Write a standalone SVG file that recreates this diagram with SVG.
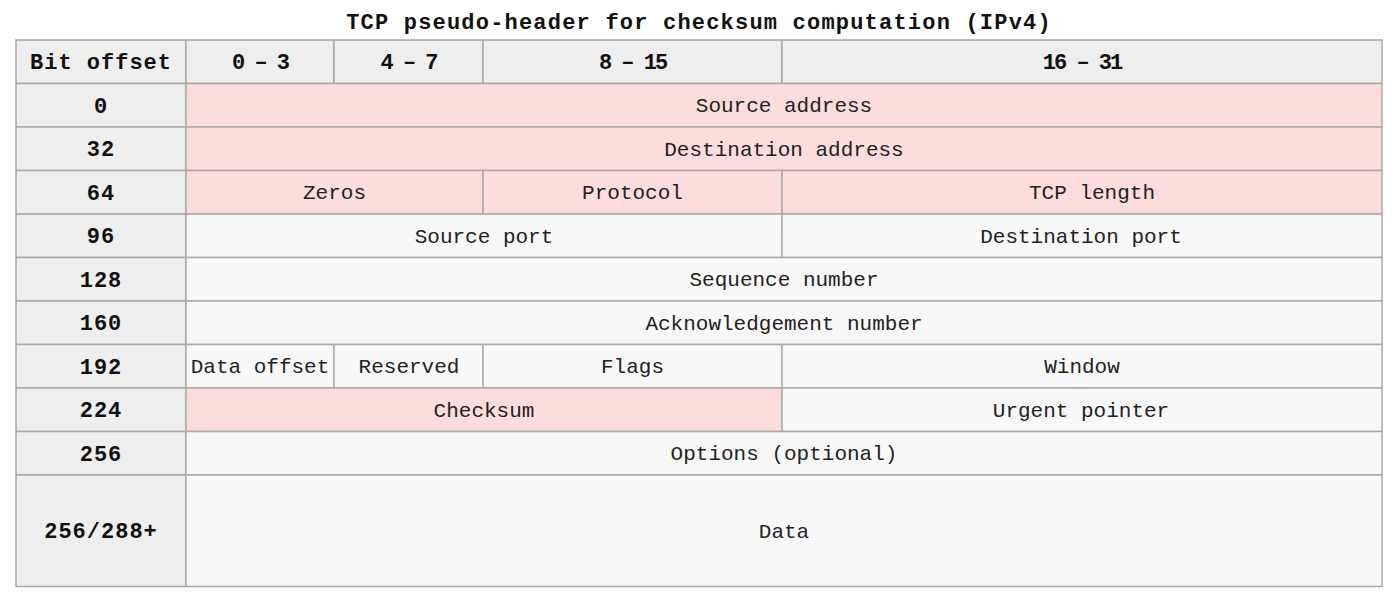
<svg xmlns="http://www.w3.org/2000/svg" width="1397" height="593" viewBox="0 0 1397 593">
<style>
.bg{fill:#ffffff}
.h{fill:#eeeeee;stroke:#a9a9a9;stroke-width:1.5}
.p{fill:#fddcdc;stroke:#a9a9a9;stroke-width:1.5}
.w{fill:#f8f8f8;stroke:#a9a9a9;stroke-width:1.5}
.t{font-family:"Liberation Mono",monospace;font-size:21px;fill:#222;text-anchor:middle}
.b{font-family:"Liberation Mono",monospace;font-size:22px;font-weight:bold;fill:#111;text-anchor:middle;letter-spacing:1px}
.r{letter-spacing:-2px}
.title{font-family:"Liberation Mono",monospace;font-size:22px;font-weight:bold;fill:#111;text-anchor:middle;letter-spacing:1.2px}
</style>
<rect class="bg" x="0" y="0" width="1397" height="593"/>
<text class="title" x="699" y="29">TCP pseudo-header for checksum computation (IPv4)</text>
<g id="header">
<g id="h-bit"><rect class="h" x="16" y="40" width="170" height="43.5"/><text class="b" x="101" y="69">Bit offset</text></g>
<g id="h-0-3"><rect class="h" x="186" y="40" width="148" height="43.5"/><text class="b r" x="260" y="69">0 – 3</text></g>
<g id="h-4-7"><rect class="h" x="334" y="40" width="149" height="43.5"/><text class="b r" x="408.5" y="69">4 – 7</text></g>
<g id="h-8-15"><rect class="h" x="483" y="40" width="299" height="43.5"/><text class="b r" x="632.5" y="69">8 – 15</text></g>
<g id="h-16-31"><rect class="h" x="782" y="40" width="600" height="43.5"/><text class="b r" x="1082" y="69">16 – 31</text></g>
</g>
<g id="row0">
<g id="o0"><rect class="h" x="16" y="83.5" width="170" height="43.5"/><text class="b" x="101" y="112.5">0</text></g>
<g id="source-address"><rect class="p" x="186" y="83.5" width="1196" height="43.5"/><text class="t" x="784" y="112">Source address</text></g>
</g>
<g id="row32">
<g id="o32"><rect class="h" x="16" y="127" width="170" height="43.5"/><text class="b" x="101" y="156">32</text></g>
<g id="destination-address"><rect class="p" x="186" y="127" width="1196" height="43.5"/><text class="t" x="784" y="155.5">Destination address</text></g>
</g>
<g id="row64">
<g id="o64"><rect class="h" x="16" y="170.5" width="170" height="43.5"/><text class="b" x="101" y="199.5">64</text></g>
<g id="zeros"><rect class="p" x="186" y="170.5" width="297" height="43.5"/><text class="t" x="334.5" y="199">Zeros</text></g>
<g id="protocol"><rect class="p" x="483" y="170.5" width="299" height="43.5"/><text class="t" x="632.5" y="199">Protocol</text></g>
<g id="tcp-length"><rect class="p" x="782" y="170.5" width="600" height="43.5"/><text class="t" x="1092" y="199">TCP length</text></g>
</g>
<g id="row96">
<g id="o96"><rect class="h" x="16" y="214" width="170" height="43.5"/><text class="b" x="101" y="243">96</text></g>
<g id="source-port"><rect class="w" x="186" y="214" width="596" height="43.5"/><text class="t" x="484" y="242.5">Source port</text></g>
<g id="destination-port"><rect class="w" x="782" y="214" width="600" height="43.5"/><text class="t" x="1081" y="242.5">Destination port</text></g>
</g>
<g id="row128">
<g id="o128"><rect class="h" x="16" y="257.5" width="170" height="43.5"/><text class="b" x="101" y="286.5">128</text></g>
<g id="sequence-number"><rect class="w" x="186" y="257.5" width="1196" height="43.5"/><text class="t" x="784" y="286">Sequence number</text></g>
</g>
<g id="row160">
<g id="o160"><rect class="h" x="16" y="301" width="170" height="43.5"/><text class="b" x="101" y="330">160</text></g>
<g id="ack-number"><rect class="w" x="186" y="301" width="1196" height="43.5"/><text class="t" x="784" y="329.5">Acknowledgement number</text></g>
</g>
<g id="row192">
<g id="o192"><rect class="h" x="16" y="344.5" width="170" height="43.5"/><text class="b" x="101" y="373.5">192</text></g>
<g id="data-offset"><rect class="w" x="186" y="344.5" width="148" height="43.5"/><text class="t" x="260" y="373">Data offset</text></g>
<g id="reserved"><rect class="w" x="334" y="344.5" width="149" height="43.5"/><text class="t" x="409" y="373">Reserved</text></g>
<g id="flags"><rect class="w" x="483" y="344.5" width="299" height="43.5"/><text class="t" x="632.5" y="373">Flags</text></g>
<g id="window"><rect class="w" x="782" y="344.5" width="600" height="43.5"/><text class="t" x="1082" y="373">Window</text></g>
</g>
<g id="row224">
<g id="o224"><rect class="h" x="16" y="388" width="170" height="43.5"/><text class="b" x="101" y="417">224</text></g>
<g id="checksum"><rect class="p" x="186" y="388" width="596" height="43.5"/><text class="t" x="484" y="416.5">Checksum</text></g>
<g id="urgent-pointer"><rect class="w" x="782" y="388" width="600" height="43.5"/><text class="t" x="1081" y="416.5">Urgent pointer</text></g>
</g>
<g id="row256">
<g id="o256"><rect class="h" x="16" y="431.5" width="170" height="43.5"/><text class="b" x="101" y="460.5">256</text></g>
<g id="options"><rect class="w" x="186" y="431.5" width="1196" height="43.5"/><text class="t" x="784" y="460">Options (optional)</text></g>
</g>
<g id="row288">
<g id="o288"><rect class="h" x="16" y="475" width="170" height="111.5"/><text class="b" x="101" y="538">256/288+</text></g>
<g id="data"><rect class="w" x="186" y="475" width="1196" height="111.5"/><text class="t" x="784" y="538">Data</text></g>
</g>
<g id="connectors"></g>
</svg>
